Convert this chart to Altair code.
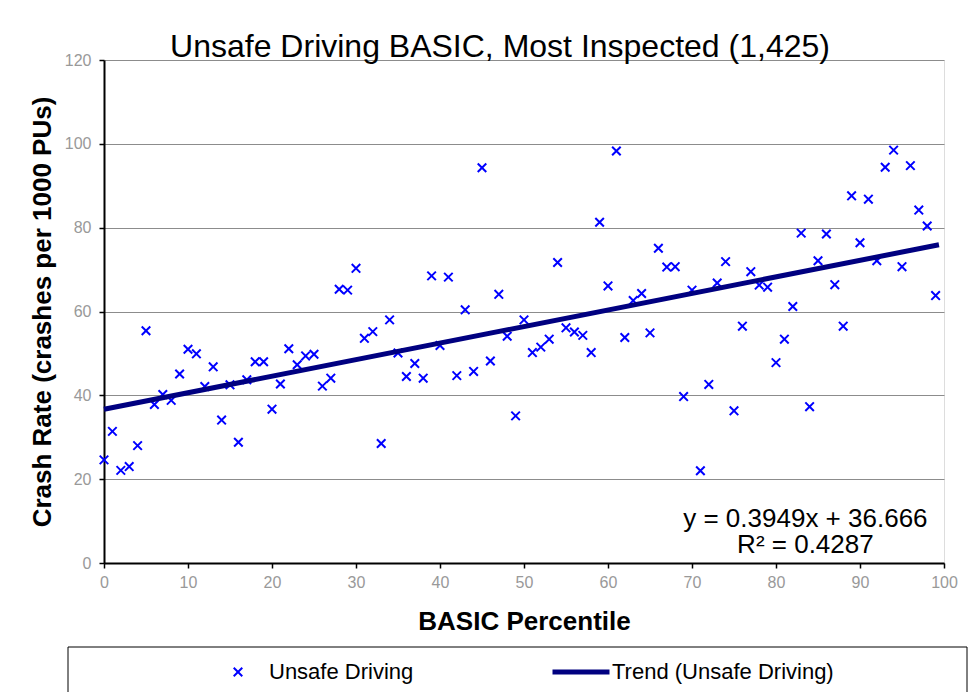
import altair as alt
import pandas as pd

FONT = "Liberation Sans"

# ---- data ----
percentile = [0, 1, 2, 3, 4, 5, 6, 7, 8, 9,
              10, 11, 12, 13, 14, 15, 16, 17, 18, 19,
              20, 21, 22, 23, 24, 25, 26, 27, 28, 29,
              30, 31, 32, 33, 34, 35, 36, 37, 38, 39,
              40, 41, 42, 43, 44, 45, 46, 47, 48, 49,
              50, 51, 52, 53, 54, 55, 56, 57, 58, 59,
              60, 61, 62, 63, 64, 65, 66, 67, 68, 69,
              70, 71, 72, 73, 74, 75, 76, 77, 78, 79,
              80, 81, 82, 83, 84, 85, 86, 87, 88, 89,
              90, 91, 92, 93, 94, 95, 96, 97, 98, 99]
crash_rate = [24.6, 31.4, 22.1, 23.0, 28.0, 55.4, 37.8, 40.2, 38.8, 45.1,
              51.0, 49.9, 42.1, 46.8, 34.1, 42.5, 28.8, 43.7, 48.0, 48.0,
              36.7, 42.7, 51.1, 47.3, 49.4, 49.8, 42.2, 44.1, 65.3, 65.1,
              70.3, 53.6, 55.2, 28.5, 58.0, 50.1, 44.5, 47.6, 44.1, 68.5,
              51.9, 68.2, 44.7, 60.4, 45.7, 94.3, 48.2, 64.1, 54.1, 35.1,
              58.0, 50.2, 51.5, 53.4, 71.7, 56.1, 55.1, 54.3, 50.2, 81.3,
              66.1, 98.3, 53.8, 62.6, 64.3, 54.9, 75.1, 70.6, 70.7, 39.7,
              65.1, 22.0, 42.6, 66.8, 71.9, 36.3, 56.5, 69.5, 66.3, 65.8,
              47.8, 53.4, 61.2, 78.7, 37.3, 72.1, 78.5, 66.4, 56.5, 87.6,
              76.4, 86.8, 72.1, 94.4, 98.5, 70.7, 94.8, 84.2, 80.4, 63.8]

series_names = ["Unsafe Driving", "Trend (Unsafe Driving)"]
series_colors = ["#0000FF", "#000080"]

trend_slope = 0.3949
trend_intercept = 36.666
trend_x = [0, 99.4]

eq_lines = ["y = 0.3949x + 36.666", "R² = 0.4287"]
eq_x = [83.5, 83.5]
eq_y = [8.65, 2.45]

x_ticks = [0, 10, 20, 30, 40, 50, 60, 70, 80, 90, 100]
y_ticks = [0, 20, 40, 60, 80, 100, 120]

# ---- tables ----
pts = pd.DataFrame({"percentile": percentile, "rate": crash_rate,
                    "series": series_names[0]})
trend_df = pd.DataFrame({"percentile": trend_x,
                         "rate": [trend_slope * v + trend_intercept for v in trend_x]})
eq_df = pd.DataFrame({"percentile": eq_x, "rate": eq_y, "label": eq_lines})

# Small "x" drawn inside a large symbol box so that both legend entries share one symbol size
X_PATH = "M-0.15,-0.15L0.15,0.15M-0.15,0.15L0.15,-0.15"
SYMBOL_SIZE = 3249

legend = alt.Legend(
    title=None, orient="none", legendX=123, legendY=601,
    direction="horizontal", columns=2, columnPadding=128, padding=0,
    labelFont=FONT, labelFontSize=22, labelColor="black", labelLimit=500,
    labelOffset=20, symbolOffset=0, symbolOpacity=1, symbolSize=SYMBOL_SIZE,
    symbolStrokeWidth={"expr": "datum.value === 'Unsafe Driving' ? 2 : 5"},
)

x_enc = alt.X("percentile:Q", title="BASIC Percentile",
              scale=alt.Scale(domain=[0, 100], nice=False),
              axis=alt.Axis(values=x_ticks, grid=False, labelFlush=False,
                            labelFont=FONT, labelFontSize=16, labelColor="#999999",
                            labelPadding=6, tickColor="black", tickSize=5, tickWidth=1.5,
                            domainColor="black", domainWidth=2,
                            titleFont=FONT, titleFontSize=26, titleFontWeight="bold",
                            titleColor="black", titlePadding=18))
y_enc = alt.Y("rate:Q", title="Crash Rate (crashes per 1000 PUs)",
              scale=alt.Scale(domain=[0, 120], nice=False),
              axis=alt.Axis(values=y_ticks, grid=True, gridColor="#8c8c8c", gridWidth=1,
                            labelFont=FONT, labelFontSize=16, labelColor="#999999",
                            labelPadding=8, tickColor="black", tickSize=5, tickWidth=1.5,
                            domainColor="black", domainWidth=2,
                            titleFont=FONT, titleFontSize=26, titleFontWeight="bold",
                            titleColor="black", titlePadding=9))

points = alt.Chart(pts).mark_point(filled=False, size=SYMBOL_SIZE, opacity=1).encode(
    x=x_enc,
    y=y_enc,
    color=alt.Color("series:N", scale=alt.Scale(domain=series_names, range=series_colors),
                    legend=legend),
    shape=alt.Shape("series:N", scale=alt.Scale(domain=series_names, range=[X_PATH, "stroke"]),
                    legend=legend),
    strokeWidth=alt.value(2),
)

trend = alt.Chart(trend_df).mark_line(color=series_colors[1], strokeWidth=5,
                                      strokeCap="butt").encode(
    x="percentile:Q", y="rate:Q")

eq_text = alt.Chart(eq_df).mark_text(font=FONT, fontSize=26, color="black",
                                     align="center", baseline="alphabetic").encode(
    x="percentile:Q", y="rate:Q", text="label:N")

legend_box = alt.Chart(alt.Data(values=[{"k": 1}])).mark_rect(
    fill="white", stroke="black", strokeWidth=1).encode(
    x=alt.value(-36), x2=alt.value(863), y=alt.value(587), y2=alt.value(635))

chart = alt.layer(points, trend, eq_text, legend_box).properties(
    width=840, height=503,
    autosize=alt.AutoSizeParams(type="none"),
    padding={"left": 96, "top": 52, "right": 24, "bottom": 129},
    title=alt.TitleParams(text="Unsafe Driving BASIC, Most Inspected (1,425)",
                          font=FONT, fontSize=32, fontWeight="normal", color="black",
                          anchor="middle", frame="group", dx=-24, offset=0, dy=37,
                          baseline="alphabetic"),
).configure_view(fill="#C0C0C0", stroke="#808080", strokeWidth=2
).configure(font=FONT, background="white")

chart.save("out.html", embed_options={"renderer": "svg", "actions": False})
